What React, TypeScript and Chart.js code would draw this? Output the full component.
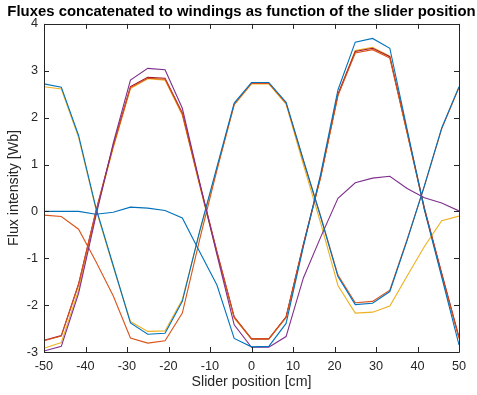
import React, { useEffect, useRef } from "react";
import { Chart, registerables } from "chart.js";

Chart.register(...registerables);

const sliderPositions = [
  -50, -45.83, -41.67, -37.5, -33.33, -29.17, -25, -20.83, -16.67, -12.5, -8.33, -4.17, 0,
  4.17, 8.33, 12.5, 16.67, 20.83, 25, 29.17, 33.33, 37.5, 41.67, 45.83, 50,
];

// Family A windings
const fluxA1 = [2.72, 2.65, 1.62, 0.08, -1.15, -2.38, -2.62, -2.6, -1.92, -0.42, 0.95, 2.31, 2.75, 2.75, 2.33, 1.1, -0.12, -1.39, -1.99, -1.96, -1.71, -0.62, 0.55, 1.78, 2.66];
const fluxA2 = [-0.08, -0.11, -0.38, -1.07, -1.8, -2.7, -2.81, -2.76, -2.17, -0.6, 0.88, 2.28, 2.73, 2.73, 2.31, 1.08, -0.1, -1.36, -1.95, -1.92, -1.68, -0.6, 0.54, 1.76, 2.64];
const fluxA3 = [2.66, 2.61, 1.58, 0.05, -1.18, -2.35, -2.56, -2.55, -1.88, -0.45, 0.9, 2.27, 2.72, 2.72, 2.29, 1.0, -0.25, -1.58, -2.17, -2.15, -2.02, -1.38, -0.75, -0.2, -0.1];
// Family B windings
const fluxB1 = [0.0, 0.0, 0.0, -0.06, -0.02, 0.09, 0.07, 0.02, -0.14, -0.86, -1.57, -2.71, -2.89, -2.88, -2.39, -0.75, 0.8, 2.59, 3.61, 3.69, 3.48, 1.75, 0.03, -1.4, -2.85];
const fluxB2 = [-2.76, -2.66, -1.56, -0.01, 1.39, 2.64, 2.84, 2.82, 2.08, 0.58, -0.87, -2.26, -2.72, -2.72, -2.26, -0.72, 0.73, 2.47, 3.38, 3.45, 3.27, 1.67, 0.04, -1.35, -2.71];
const fluxB3 = [-2.92, -2.8, -1.68, -0.05, 1.35, 2.62, 2.83, 2.8, 2.05, 0.55, -0.9, -2.28, -2.72, -2.72, -2.27, -0.72, 0.73, 2.48, 3.43, 3.5, 3.31, 1.68, 0.05, -1.34, -2.7];
const fluxB4 = [-2.98, -2.88, -1.75, -0.1, 1.45, 2.8, 3.05, 3.02, 2.2, 0.62, -0.92, -2.42, -2.9, -2.9, -2.67, -1.42, -0.55, 0.28, 0.61, 0.71, 0.75, 0.49, 0.29, 0.18, 0.01];
const fluxB5 = [-2.75, -2.65, -1.55, 0.0, 1.4, 2.66, 2.86, 2.84, 2.1, 0.6, -0.86, -2.25, -2.72, -2.72, -2.25, -0.7, 0.75, 2.5, 3.41, 3.48, 3.3, 1.7, 0.07, -1.32, -2.68];

const xTicks = [-50, -40, -30, -20, -10, 0, 10, 20, 30, 40, 50];
const yTicks = [-3, -2, -1, 0, 1, 2, 3, 4];

const BLUE = "#0072BD";
const ORANGE = "#D95319";
const YELLOW = "#EDB120";
const PURPLE = "#7E2F8E";
const DARKRED = "#A2142F";
const AXIS = "#262626";
const FONT = "'Liberation Sans', Arial, Helvetica, sans-serif";

const seriesList: { values: number[]; color: string }[] = [
  { values: fluxA1, color: BLUE },
  { values: fluxB1, color: BLUE },
  { values: fluxB4, color: PURPLE },
  { values: fluxB2, color: ORANGE },
  { values: fluxB5, color: DARKRED },
  { values: fluxA2, color: ORANGE },
  { values: fluxA3, color: YELLOW },
  { values: fluxB3, color: YELLOW },
];

const boxPlugin = {
  id: "matlabBox",
  afterDatasetsDraw(chart: any) {
    const { ctx, chartArea } = chart;
    const { left, right, top, bottom } = chartArea;
    const xs = chart.scales.x;
    const ys = chart.scales.y;
    const tl = 5;
    ctx.save();
    ctx.strokeStyle = AXIS;
    ctx.lineWidth = 1;
    ctx.beginPath();
    ctx.rect(Math.round(left) + 0.5, Math.round(top) + 0.5, Math.round(right - left), Math.round(bottom - top));
    ctx.stroke();
    ctx.beginPath();
    xTicks.forEach((v) => {
      const px = Math.round(xs.getPixelForValue(v)) + 0.5;
      ctx.moveTo(px, bottom);
      ctx.lineTo(px, bottom - tl);
      ctx.moveTo(px, top);
      ctx.lineTo(px, top + tl);
    });
    yTicks.forEach((v) => {
      const py = Math.round(ys.getPixelForValue(v)) + 0.5;
      ctx.moveTo(left, py);
      ctx.lineTo(left + tl, py);
      ctx.moveTo(right, py);
      ctx.lineTo(right - tl, py);
    });
    ctx.stroke();
    ctx.restore();
  },
};

export default function App() {
  const ref = useRef<HTMLCanvasElement | null>(null);
  useEffect(() => {
    if (!ref.current) return;
    const chart = new Chart(ref.current, {
      type: "line",
      data: {
        datasets: seriesList.map((s, i) => ({
          label: "w" + (i + 1),
          data: sliderPositions.map((x, j) => ({ x, y: s.values[j] })),
          borderColor: s.color,
          backgroundColor: s.color,
          borderWidth: 1.1,
          pointRadius: 0,
          fill: false,
          tension: 0,
        })),
      },
      options: {
        responsive: false,
        animation: false,
        events: [],
        layout: { padding: { left: 6, right: 0, top: 0, bottom: 0 } },
        plugins: {
          legend: { display: false },
          tooltip: { enabled: false },
          title: {
            display: true,
            text: "Fluxes concatenated to windings as function of the slider position",
            color: "#000000",
            font: { family: FONT, size: 14.9, weight: "bold", lineHeight: 1.2 },
            padding: { top: 3, bottom: 3 },
          },
        },
        scales: {
          x: {
            type: "linear",
            min: -50,
            max: 50,
            grid: { display: false, drawTicks: false },
            border: { display: false },
            afterBuildTicks: (scale: any) => {
              scale.ticks = xTicks.map((v) => ({ value: v }));
            },
            ticks: {
              autoSkip: false,
              maxRotation: 0,
              color: AXIS,
              padding: 7,
              font: { family: FONT, size: 12.7 },
            },
            title: {
              display: true,
              text: "Slider position [cm]",
              color: AXIS,
              font: { family: FONT, size: 14.2, lineHeight: 1.2 },
              padding: { top: 0, bottom: 4 },
            },
            afterFit: (scale: any) => {
              scale.height = 43;
            },
          },
          y: {
            type: "linear",
            position: "left",
            min: -3,
            max: 4,
            grid: { display: false, drawTicks: false },
            border: { display: false },
            afterBuildTicks: (scale: any) => {
              scale.ticks = yTicks.map((v) => ({ value: v }));
            },
            ticks: {
              autoSkip: false,
              color: AXIS,
              padding: 6,
              font: { family: FONT, size: 12.7 },
            },
            title: {
              display: true,
              text: "Flux intensity [Wb]",
              color: AXIS,
              font: { family: FONT, size: 14.2, lineHeight: 1.2 },
              padding: { top: 0, bottom: 0 },
            },
            afterFit: (scale: any) => {
              scale.width = 38;
            },
          },
          y2: {
            type: "linear",
            position: "right",
            min: -3,
            max: 4,
            grid: { display: false, drawTicks: false },
            border: { display: false },
            ticks: { display: false },
            afterFit: (scale: any) => {
              scale.width = 18;
            },
          },
        },
      },
      plugins: [boxPlugin],
    } as any);
    return () => chart.destroy();
  }, []);
  return (
    <div style={{ position: "fixed", left: 0, top: 0, width: 477, height: 395, background: "#ffffff" }}>
      <canvas ref={ref} width={477} height={395} style={{ width: 477, height: 395, display: "block" }} />
    </div>
  );
}
